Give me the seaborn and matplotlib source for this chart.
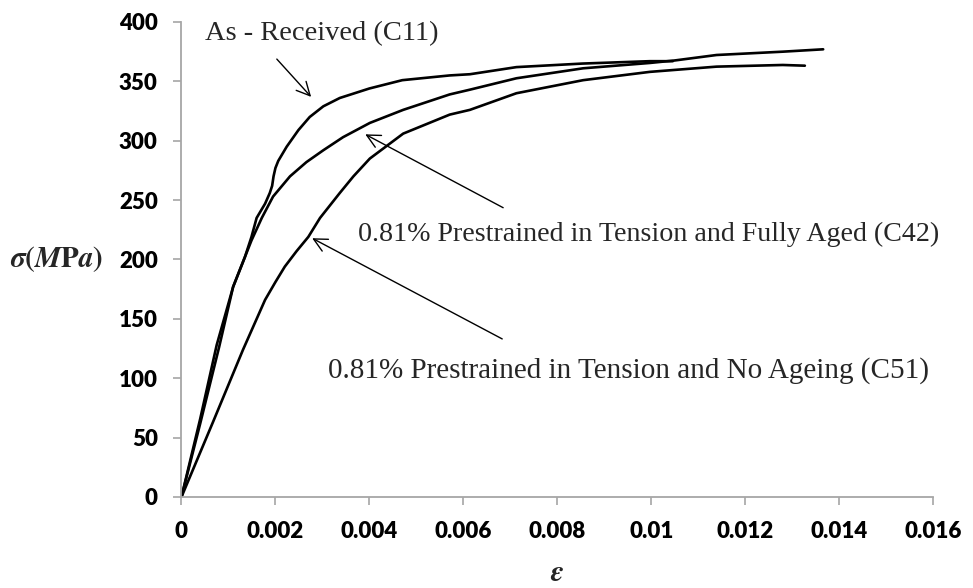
import numpy as np
import pandas as pd
import matplotlib
matplotlib.use("Agg")
import matplotlib.pyplot as plt
import seaborn as sns

# Stress-strain curves (strain, stress in MPa)
c11_strain = [0, 0.0004, 0.00075, 0.0011, 0.00135, 0.00149, 0.0016, 0.00178, 0.00188,
              0.00193, 0.00196, 0.002, 0.00206, 0.00224, 0.00249, 0.00273, 0.00302,
              0.00337, 0.004, 0.0047, 0.00571, 0.00614, 0.00713, 0.00854, 0.00997, 0.01046]
c11_stress = [0, 66, 128, 177, 202, 219, 235, 247, 256,
              262, 270, 277, 283, 295, 309, 320, 329,
              336, 344, 351, 355, 356, 362, 365, 367, 367]

c42_strain = [0, 0.0004, 0.0008, 0.0011, 0.00135, 0.00149, 0.00171, 0.00195, 0.00231,
              0.00266, 0.00302, 0.00344, 0.00401, 0.00472, 0.00571, 0.00614, 0.00713,
              0.00855, 0.00997, 0.0105, 0.01139, 0.0128, 0.01366]
c42_stress = [0, 62, 126, 177, 202, 216, 235, 253, 270,
              282, 292, 303, 315, 326, 339, 343, 352.6,
              361, 365.5, 367.6, 372.2, 375, 377]

c51_strain = [0, 0.00067, 0.00131, 0.00178, 0.002, 0.0022, 0.00245, 0.0027, 0.00295,
              0.00337, 0.00366, 0.00401, 0.00472, 0.00571, 0.00614, 0.00713, 0.00855,
              0.00997, 0.01139, 0.0128, 0.01327]
c51_stress = [0, 63, 124, 166, 181, 194, 207, 219, 235,
              256, 270, 285, 306, 322, 326, 340, 351,
              358, 362.4, 363.8, 363.2]

y_ticks = [0, 50, 100, 150, 200, 250, 300, 350, 400]
x_ticks = [0, 0.002, 0.004, 0.006, 0.008, 0.01, 0.012, 0.014, 0.016]

frames = []
for name, s, t in [("C11", c11_strain, c11_stress),
                   ("C42", c42_strain, c42_stress),
                   ("C51", c51_strain, c51_stress)]:
    frames.append(pd.DataFrame({"strain": s, "stress": t, "specimen": name}))
df = pd.concat(frames, ignore_index=True)

sns.set_theme(style="white")
plt.rcParams["mathtext.fontset"] = "stix"

fig = plt.figure(figsize=(9.73, 5.88), dpi=100)
ax = fig.add_axes([0.1865, 0.1548, 0.7725, 0.8078])

sns.lineplot(data=df, x="strain", y="stress", hue="specimen", units="specimen",
             estimator=None, sort=False, palette=["black"] * 3, legend=False,
             linewidth=1.9, ax=ax)

ax.set_xlim(0, 0.016)
ax.set_ylim(0, 400)
ax.set_xticks(x_ticks)
ax.set_yticks(y_ticks)
ax.set_xticklabels([f"{v:g}" for v in x_ticks])
ax.set_yticklabels([f"{v:g}" for v in y_ticks])

for lab in ax.get_xticklabels() + ax.get_yticklabels():
    lab.set_fontfamily(["Lato", "DejaVu Sans"])
    lab.set_fontweight("heavy")
    lab.set_fontsize(16)
    lab.set_color("black")

ax.tick_params(axis="both", which="major", direction="out", length=6, width=1.2,
               color="#a6a6a6", pad=11, bottom=True, left=True)
for side in ["top", "right"]:
    ax.spines[side].set_visible(False)
for side in ["left", "bottom"]:
    ax.spines[side].set_color("#a6a6a6")
    ax.spines[side].set_linewidth(1.3)

ax.set_xlabel(r"$\mathbfit{\varepsilon}$", fontsize=21)
ax.xaxis.set_label_coords(0.5, -0.176)
ax.xaxis.label.set_verticalalignment("baseline")
ax.set_ylabel(r"$\mathbfit{\sigma}\mathbf{(}\mathbfit{M}\mathbf{P}\mathbfit{a}\mathbf{)}$",
              fontsize=21, rotation=0)
ax.yaxis.set_label_coords(-0.104, 0.5)
ax.yaxis.label.set_horizontalalignment("right")
ax.yaxis.label.set_verticalalignment("center")

serif = ["Liberation Serif", "DejaVu Serif"]
arrow = dict(arrowstyle="->", color="black", lw=1.0, mutation_scale=24)

ax.text(0.0005, 384.8, "As - Received (C11)", fontfamily=serif, fontsize=20.5,
        va="baseline", ha="left")
ax.annotate("", xy=(0.0028, 335.2), xytext=(0.00199, 370.5), arrowprops=arrow)

ax.text(0.003755, 215.6, "0.81% Prestrained in Tension and Fully Aged (C42)",
        fontfamily=serif, fontsize=20.2, va="baseline", ha="left")
ax.annotate("", xy=(0.00386, 306.5), xytext=(0.0069, 242.5), arrowprops=arrow)

ax.text(0.00311, 100.2, "0.81% Prestrained in Tension and No Ageing (C51)",
        fontfamily=serif, fontsize=21, va="baseline", ha="left")
ax.annotate("", xy=(0.00273, 219), xytext=(0.00688, 132), arrowprops=arrow)

fig.savefig("out.png", dpi=100)
